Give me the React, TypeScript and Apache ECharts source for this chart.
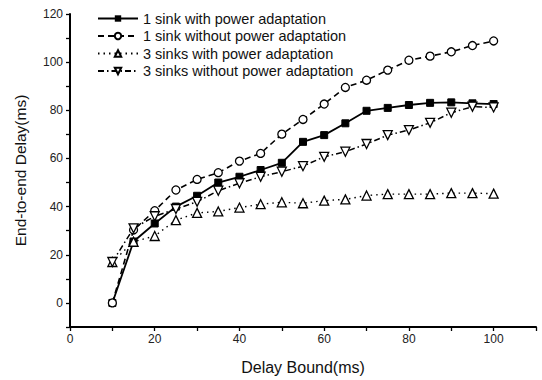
import React, { useEffect, useRef } from "react";
import * as echarts from "echarts";

const xValues = [10, 15, 20, 25, 30, 35, 40, 45, 50, 55, 60, 65, 70, 75, 80, 85, 90, 95, 100];
const oneSinkPower = [0, 25.5, 33, 40, 44.5, 50, 52.4, 55.2, 58.2, 66.9, 69.7, 74.6, 79.8, 81, 82.2, 83.1, 83.3, 82.9, 82.6];
const oneSinkNoPower = [0, 30.3, 38.3, 46.9, 51.3, 54.1, 58.9, 62.1, 70.1, 76.2, 82.6, 89.5, 92.5, 96.7, 100.8, 102.5, 104.3, 106.9, 108.8];
const threeSinksPower = [17, 25.4, 27.8, 34.4, 37.4, 38, 39.6, 41, 41.8, 41.4, 42.5, 43, 44.6, 45.2, 45.2, 45.2, 45.6, 45.6, 45.4];
const threeSinksNoPower = [17, 31, 36, 39, 42, 46.6, 49.7, 52.4, 54.5, 56.8, 60.7, 62.8, 66, 69.7, 71.8, 74.8, 79, 81.5, 81.2];
const seriesNames = [
  "1 sink with power adaptation",
  "1 sink without power adaptation",
  "3 sinks with power adaptation",
  "3 sinks without power adaptation",
];

const pair = (ys: number[]) => xValues.map((x, i) => [x, ys[i]]);

export default function App() {
  const ref = useRef<HTMLDivElement>(null);
  useEffect(() => {
    if (!ref.current) return;
    const chart = echarts.init(ref.current, undefined, { renderer: "svg" });
    const font = "Liberation Sans, Arial, sans-serif";
    const base = {
      type: "line",
      symbolSize: 7,
      showAllSymbol: true,
    };
    chart.setOption({
      animation: false,
      backgroundColor: "#fff",
      textStyle: { fontFamily: font },
      grid: { left: 70, right: 6, top: 14, bottom: 53 },
      legend: {
        orient: "vertical",
        left: 97,
        top: 11,
        padding: 0,
        itemWidth: 40,
        itemHeight: 8,
        itemGap: 2.5,
        textStyle: { fontSize: 14.5, color: "#111", fontFamily: font },
        data: seriesNames,
      },
      xAxis: {
        type: "value",
        min: 0,
        max: 110,
        interval: 10,
        name: "Delay Bound(ms)",
        nameLocation: "middle",
        nameGap: 32,
        nameTextStyle: { fontSize: 16, color: "#111" },
        axisLine: { onZero: false, lineStyle: { color: "#000", width: 2 } },
        axisTick: { length: 4, lineStyle: { color: "#000", width: 1.3 } },
        axisLabel: {
          fontSize: 12,
          color: "#222",
          margin: 6,
          formatter: (v: number) => (v % 20 === 0 && v <= 100 ? String(v) : ""),
        },
        splitLine: { show: false },
      },
      yAxis: {
        type: "value",
        min: -10,
        max: 120,
        interval: 10,
        name: "End-to-end Delay(ms)",
        nameLocation: "middle",
        nameGap: 42,
        nameTextStyle: { fontSize: 15.5, color: "#111" },
        axisLine: { show: true, onZero: false, lineStyle: { color: "#000", width: 2 } },
        axisTick: { show: true, length: 4, lineStyle: { color: "#000", width: 1.3 } },
        axisLabel: {
          fontSize: 12,
          color: "#222",
          margin: 7,
          formatter: (v: number) => (v % 20 === 0 ? String(v) : ""),
        },
        splitLine: { show: false },
      },
      series: [
        {
          ...base,
          name: seriesNames[0],
          data: pair(oneSinkPower),
          symbol: "rect",
          symbolSize: 7,
          itemStyle: { color: "#000", borderColor: "#000" },
          lineStyle: { color: "#000", width: 1.8, type: "solid" },
        },
        {
          ...base,
          name: seriesNames[1],
          data: pair(oneSinkNoPower),
          symbol: "circle",
          symbolSize: 8,
          itemStyle: { color: "#fff", borderColor: "#000", borderWidth: 1.3 },
          lineStyle: { color: "#000", width: 1.6, type: [6, 4] },
        },
        {
          ...base,
          name: seriesNames[2],
          data: pair(threeSinksPower),
          symbol: "triangle",
          symbolSize: 9,
          itemStyle: { color: "#fff", borderColor: "#000", borderWidth: 1.3 },
          lineStyle: { color: "#000", width: 1.4, type: [1.5, 4] },
        },
        {
          ...base,
          name: seriesNames[3],
          data: pair(threeSinksNoPower),
          symbol: "triangle",
          symbolRotate: 180,
          symbolSize: 9,
          itemStyle: { color: "#fff", borderColor: "#000", borderWidth: 1.3 },
          lineStyle: { color: "#000", width: 1.5, type: [6, 3, 1.5, 3] },
        },
      ],
    });
    return () => chart.dispose();
  }, []);
  return <div ref={ref} style={{ width: 542, height: 380, position: "absolute", left: 0, top: 0 }} />;
}
